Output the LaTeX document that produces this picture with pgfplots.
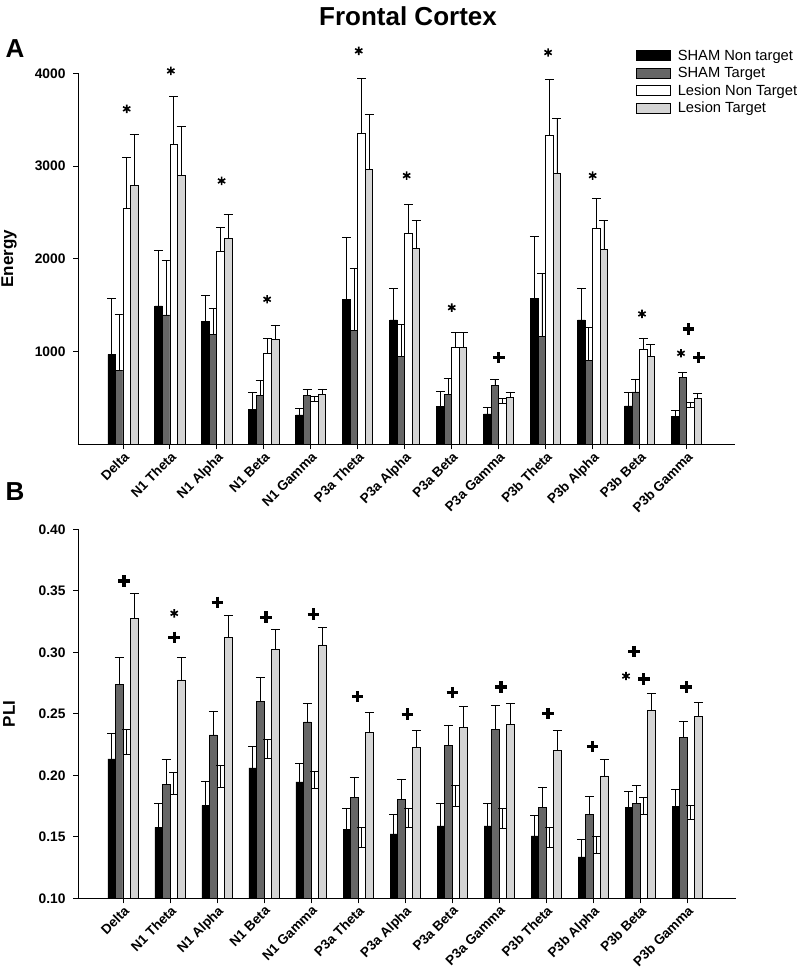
\documentclass[border=0pt]{standalone}
\usepackage{fontspec}
\setmainfont{Liberation Sans}
\usepackage{pgfplots}
\usepackage{pgfplotstable}
\pgfplotsset{compat=1.18}
\definecolor{darkbar}{gray}{0.40}
\definecolor{lightbar}{gray}{0.83}

\pgfplotstableread{
x B Be D De W We L Le
0 971 605 802 601 2547 547 2795 543
1 1493 593 1396 582 3237 518 2903 521
2 1327 281 1183 285 2086 256 2216 259
3 378 180 532 162 982 162 1133 155
4 318 68 530 65 465 58 541 57
5 1565 665 1230 662 3353 589 2964 590
6 1342 341 953 342 2277 306 2108 306
7 414 162 540 169 1050 155 1050 155
8 329 72 641 58 440 58 505 61
9 1576 669 1169 673 3327 605 2924 594
10 1342 341 906 360 2331 316 2097 317
11 415 144 566 140 1026 122 947 126
12 307 58 720 54 401 57 494 57
}\energy

\pgfplotstableread{
x B Be D De W We L Le
0 0.2133 0.0208 0.274 0.022 0.217 0.020 0.3276 0.0204
1 0.1576 0.0194 0.1927 0.0201 0.1845 0.0179 0.2775 0.0185
2 0.1756 0.0198 0.2328 0.0195 0.1905 0.0179 0.3122 0.0178
3 0.206 0.0176 0.2604 0.019 0.2136 0.0159 0.3022 0.0162
4 0.1946 0.0152 0.2434 0.0151 0.189 0.0143 0.306 0.0143
5 0.156 0.017 0.1818 0.0168 0.1413 0.0163 0.2352 0.0158
6 0.1523 0.0157 0.1807 0.0163 0.1577 0.0151 0.2226 0.0142
7 0.1588 0.0182 0.2246 0.0163 0.1745 0.0171 0.239 0.0168
8 0.1588 0.0182 0.2371 0.0198 0.157 0.0164 0.2417 0.0168
9 0.1507 0.0168 0.174 0.0165 0.1415 0.0162 0.220 0.0163
10 0.1336 0.0141 0.1685 0.0141 0.1368 0.0136 0.1995 0.0133
11 0.1737 0.0135 0.177 0.0146 0.168 0.0138 0.253 0.0136
12 0.1745 0.0143 0.2309 0.0132 0.1645 0.0113 0.2477 0.0113
}\pli

\pgfplotsset{
  mybar/.style={ybar, bar width=0.16, bar shift=0pt, draw=black, line width=0.8pt,
    legend image code/.code={\draw[##1,line width=0.8pt] (0pt,-5pt) rectangle (34pt,5pt);},
    /pgfplots/error bars/y dir=plus,
    /pgfplots/error bars/y explicit,
    /pgfplots/error bars/error bar style={black,line width=0.9pt},
    /pgfplots/error bars/error mark options={black,rotate=90,mark size=4.5pt,line width=0.9pt}},
  starmk/.style={forget plot, only marks, black, mark=asterisk, mark size=4.2pt, line width=1.6pt},
  plusmk/.style={forget plot, only marks, black, mark=+, mark size=5.8pt, line width=3.2pt},
  myaxis/.style={
    scale only axis, xmin=-0.957, xmax=13.03,
    axis x line*=bottom, axis y line*=left,
    axis line style={line width=0.9pt},
    tick align=outside, major tick length=5pt,
    tick style={black, line width=0.9pt},
    xtick={0,...,12},
    xticklabels={Delta,N1 Theta,N1 Alpha,N1 Beta,N1 Gamma,P3a Theta,P3a Alpha,P3a Beta,P3a Gamma,P3b Theta,P3b Alpha,P3b Beta,P3b Gamma},
    xticklabel style={rotate=45, anchor=north east, font=\bfseries\fontsize{13.5}{15}\selectfont, inner sep=1pt},
    yticklabel style={font=\bfseries\fontsize{13.8}{15}\selectfont, xshift=-4pt},
    /pgf/number format/assume math mode=true,
    every axis y label/.style={at={(axis description cs:-0.105,0.5)}, rotate=90, anchor=center, font=\bfseries\fontsize{17}{18}\selectfont},
  }
}

\begin{document}
\begin{tikzpicture}
\path[use as bounding box] (0pt,0pt) rectangle (800pt,976pt);
\node[font=\bfseries\fontsize{26}{30}\selectfont] at (408pt,960pt) {Frontal Cortex};
\node[font=\bfseries\fontsize{26}{30}\selectfont] at (15pt,927pt) {A};
\node[font=\bfseries\fontsize{26}{30}\selectfont] at (15pt,484pt) {B};

\begin{axis}[myaxis, at={(78pt,531.5pt)}, anchor=south west,
  width=657pt, height=371.2pt,
  ymin=0, ymax=4000, ytick={1000,2000,3000,4000},
  /pgf/number format/set thousands separator={},
  clip=false, ylabel={Energy},
  legend style={at={(0.849,1.069)}, anchor=north west, draw=none, fill=none,
    font=\fontsize{14.7}{16}\selectfont, row sep=1.5pt, column sep=5pt, inner sep=0pt},
  legend cell align=left]
\addplot[mybar, fill=black] table[x expr=\thisrow{x}-0.24, y=B, y error=Be]{\energy};
\addlegendentry{SHAM Non target}
\addplot[mybar, fill=darkbar] table[x expr=\thisrow{x}-0.08, y=D, y error=De]{\energy};
\addlegendentry{SHAM Target}
\addplot[mybar, fill=white] table[x expr=\thisrow{x}+0.08, y=W, y error=We]{\energy};
\addlegendentry{Lesion Non Target}
\addplot[mybar, fill=lightbar] table[x expr=\thisrow{x}+0.24, y=L, y error=Le]{\energy};
\addlegendentry{Lesion Target}
\addplot[starmk] coordinates {(0.08,3617) (1.02,4026) (2.1,2840) (3.07,1565) (5.02,4242) (6.04,2898) (7.0,1475) (9.05,4224) (10.0,2898) (11.05,1407) (11.88,983)};
\addplot[plusmk] coordinates {(8.0,936) (12.04,1245) (12.26,936)};
\end{axis}

\begin{axis}[myaxis, at={(78pt,77.7pt)}, anchor=south west,
  width=658pt, height=369pt, xmax=13.04,
  ymin=0.1, ymax=0.4, ytick={0.10,0.15,0.20,0.25,0.30,0.35,0.40},
  yticklabel style={/pgf/number format/fixed, /pgf/number format/fixed zerofill, /pgf/number format/precision=2},
  ylabel={PLI}]
\addplot[mybar, fill=black] table[x expr=\thisrow{x}-0.24, y=B, y error=Be]{\pli};
\addplot[mybar, fill=darkbar] table[x expr=\thisrow{x}-0.08, y=D, y error=De]{\pli};
\addplot[mybar, fill=white] table[x expr=\thisrow{x}+0.08, y=W, y error=We]{\pli};
\addplot[mybar, fill=lightbar] table[x expr=\thisrow{x}+0.24, y=L, y error=Le]{\pli};
\addplot[starmk] coordinates {(1.09,0.3317) (10.70,0.2807)};
\addplot[plusmk] coordinates {(0.02,0.358) (1.09,0.312) (2.01,0.3406) (3.04,0.3285) (4.05,0.331) (4.99,0.2639) (6.05,0.2496) (7.01,0.2672) (8.04,0.2718) (9.04,0.2501) (9.99,0.2233) (10.87,0.3005) (11.08,0.2783) (11.98,0.2718)};
\end{axis}
\end{tikzpicture}
\end{document}
